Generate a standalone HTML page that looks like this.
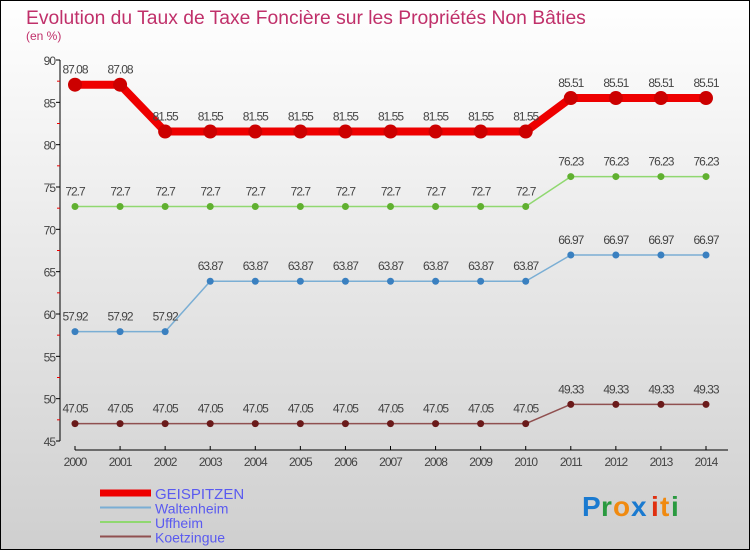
<!DOCTYPE html>
<html><head><meta charset="utf-8"><style>
body{margin:0;}
#c{width:750px;height:550px;position:relative;}
svg text{font-family:"Liberation Sans",sans-serif;}
</style></head><body>
<div id="c">
<svg id="s" width="750" height="550" xmlns="http://www.w3.org/2000/svg">
<defs><linearGradient id="bg" x1="0" y1="0" x2="0" y2="1"><stop offset="0" stop-color="#ffffff"/><stop offset="1" stop-color="#cfcfcf"/></linearGradient></defs>
<rect x="0.5" y="0.5" width="749" height="549" fill="url(#bg)" stroke="#000"/>
<text x="26" y="24" font-size="19.3" fill="#c0306a">Evolution du Taux de Taxe Foncière sur les Propriétés Non Bâties</text>
<text x="26" y="40" font-size="12" fill="#c0306a">(en %)</text>
<g id="axes"></g><g id="series"></g><g id="legend"></g>
<g font-size="28" font-weight="bold">
<text x="582" y="516" fill="#1a7ad0">P</text><text x="601" y="516" fill="#2a9a40">r</text><text x="613" y="516" fill="#f08a10">o</text><text x="631" y="516" fill="#1a7ad0">x</text><text x="651" y="516" fill="#e03010">i</text><text x="660" y="516" fill="#f08a10">t</text><text x="671" y="516" fill="#2a9a40">i</text>
</g>
</svg></div>
<script>
const years=[2000,2001,2002,2003,2004,2005,2006,2007,2008,2009,2010,2011,2012,2013,2014];
const yTicks=[45,50,55,60,65,70,75,80,85,90];
const geispitzen=[87.08,87.08,81.55,81.55,81.55,81.55,81.55,81.55,81.55,81.55,81.55,85.51,85.51,85.51,85.51];
const waltenheim=[57.92,57.92,57.92,63.87,63.87,63.87,63.87,63.87,63.87,63.87,63.87,66.97,66.97,66.97,66.97];
const uffheim=[72.7,72.7,72.7,72.7,72.7,72.7,72.7,72.7,72.7,72.7,72.7,76.23,76.23,76.23,76.23];
const koetzingue=[47.05,47.05,47.05,47.05,47.05,47.05,47.05,47.05,47.05,47.05,47.05,49.33,49.33,49.33,49.33];
const seriesNames=["GEISPITZEN","Waltenheim","Uffheim","Koetzingue"];
const NS="http://www.w3.org/2000/svg";
const xS=i=>75+i*(706-75)/(years.length-1);
const yS=v=>441-(v-45)*(441-60)/45;
function mk(t,a,p){const e=document.createElementNS(NS,t);for(const k in a)e.setAttribute(k,a[k]);p.appendChild(e);return e;}
const ax=document.getElementById('axes');
let yl=mk('line',{x1:60,y1:60,x2:60,y2:441,stroke:'#000'},ax);

yTicks.forEach(v=>{const y=yS(v);
 mk('line',{x1:56,y1:y,x2:60,y2:y,stroke:'#000'},ax);
 if(v<90) mk('line',{x1:57,y1:yS(v+2.5),x2:60,y2:yS(v+2.5),stroke:'#e00'},ax);
 const t=mk('text',{x:55,y:y+5,'font-size':12,fill:'#444','text-anchor':'end','letter-spacing':'-1'},ax);t.textContent=v;
 });
let xl=mk('line',{x1:75,y1:450,x2:728,y2:450,stroke:'#000'},ax);

years.forEach((yr,i)=>{const x=xS(i);mk('line',{x1:x,y1:446,x2:x,y2:450,stroke:'#000'},ax);
 const t=mk('text',{x:x,y:466,'font-size':12,fill:'#444','text-anchor':'middle','letter-spacing':'-1'},ax);t.textContent=yr;
 });
const sg=document.getElementById('series');
const defs=[[geispitzen,'#ee0000',8,7,'#cc0000'],[waltenheim,'#7aaed4',1.5,3.5,'#3a80c0'],[uffheim,'#90d870',1.5,3.5,'#60b030'],[koetzingue,'#905050',1.5,3.5,'#6a1a1a']];
defs.forEach((d,si)=>{const [vals,col,w,r,dot]=d;
 const g=mk('g',{},sg);
 const pl=mk('polyline',{points:vals.map((v,i)=>xS(i)+','+yS(v)).join(' '),fill:'none',stroke:col,'stroke-width':w,'stroke-linejoin':'round'},g);
 
 vals.forEach((v,i)=>{const c=mk('circle',{cx:xS(i),cy:yS(v),r:r,fill:dot},g);
  
  const t=mk('text',{x:xS(i),y:yS(v)-11,'font-size':12,fill:'#444','text-anchor':'middle','letter-spacing':'-1'},g);
  t.textContent=String(v);});
});
const lg=document.getElementById('legend');
const lc=[['#ee0000',7],['#7aaed4',2],['#90d870',2],['#905050',2]];
seriesNames.forEach((n,i)=>{const y=493+i*14.5;
 const g=mk('g',{},lg);
 mk('line',{x1:100,y1:y,x2:151,y2:y,stroke:lc[i][0],'stroke-width':lc[i][1]},g);
 const t=mk('text',{x:155,y:y+6,'font-size':i==0?15:14,fill:'#5a5af0'},g);t.textContent=n;});
</script>
</body></html>
